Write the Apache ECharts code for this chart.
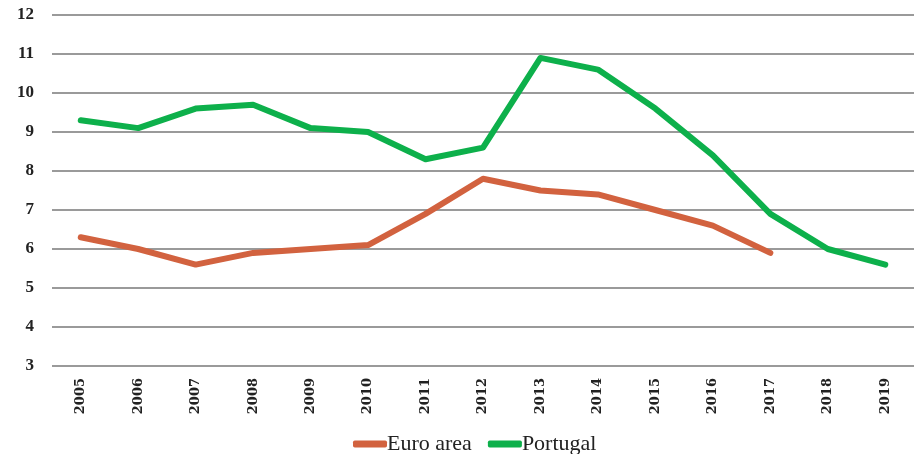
<!DOCTYPE html>
<html><head><meta charset="utf-8">
<script src="https://cdn.jsdelivr.net/npm/echarts@6/dist/echarts.min.js"></script>
<style>html,body{margin:0;padding:0;background:#fff}#c{width:916px;height:454px}</style>
</head><body><div id="c"></div>
<script>
const years = ['2005','2006','2007','2008','2009','2010','2011','2012','2013','2014','2015','2016','2017','2018','2019'];
const euroArea = [6.3, 6.0, 5.6, 5.9, 6.0, 6.1, 6.9, 7.8, 7.5, 7.4, 7.0, 6.6, 5.9, null, null];
const portugal = [9.3, 9.1, 9.6, 9.7, 9.1, 9.0, 8.3, 8.6, 10.9, 10.6, 9.6, 8.4, 6.9, 6.0, 5.6];

const chart = echarts.init(document.getElementById('c'));
chart.setOption({
  animation: false,
  grid: { left: 52, right: 2, top: 15, bottom: 88 },
  legend: {
    top: 428, left: 348,
    itemWidth: 34, itemHeight: 7, itemGap: 16,
    icon: 'roundRect',
    textStyle: { fontFamily: 'Liberation Serif', fontSize: 22, color: '#222', padding: [0, 0, 0, -5] },
    data: ['Euro area', 'Portugal']
  },
  xAxis: {
    type: 'category', data: years, boundaryGap: true,
    axisLine: { show: false }, axisTick: { show: false },
    axisLabel: { rotate: 90, margin: 12, fontFamily: 'DejaVu Serif', fontWeight: 'bold', fontSize: 13, color: '#222' }
  },
  yAxis: {
    type: 'value', min: 3, max: 12, interval: 1,
    axisLine: { show: false }, axisTick: { show: false },
    axisLabel: { margin: 18, fontFamily: 'Liberation Serif', fontWeight: 'bold', fontSize: 17, color: '#222' },
    splitLine: { lineStyle: { color: '#9a9a9a', width: 2 } }
  },
  series: [
    { name: 'Euro area', type: 'line', data: euroArea, showSymbol: false, symbol: 'none',
      itemStyle: { color: '#D2623F' }, lineStyle: { color: '#D2623F', width: 6, cap: 'round', join: 'round' } },
    { name: 'Portugal', type: 'line', data: portugal, showSymbol: false, symbol: 'none',
      itemStyle: { color: '#0DB04B' }, lineStyle: { color: '#0DB04B', width: 6, cap: 'round', join: 'round' } }
  ]
});
</script></body></html>
